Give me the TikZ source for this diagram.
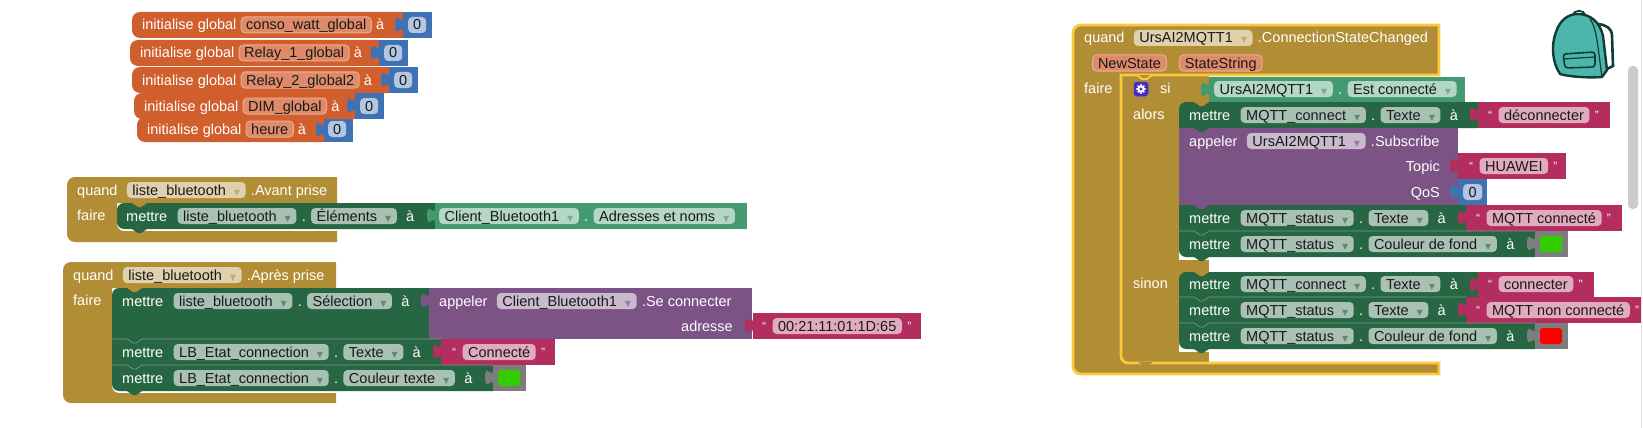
\documentclass[tikz,border=0pt]{standalone}
\usepackage{fontspec}
\setmainfont{Liberation Sans}
\newfontfamily\ddfont{DejaVu Sans}
\usetikzlibrary{positioning}

\definecolor{cOrange}{HTML}{D05F2D}
\definecolor{cBlue}{HTML}{3F71B5}
\definecolor{cBronze}{HTML}{B18E35}
\definecolor{cGreen}{HTML}{266643}
\definecolor{cTeal}{HTML}{439970}
\definecolor{cPurple}{HTML}{7C5385}
\definecolor{cPink}{HTML}{B32D5E}
\definecolor{cGrey}{HTML}{7D7D7D}
\definecolor{cSelect}{HTML}{FBC840}
\definecolor{cPack}{HTML}{4DB6AC}
\definecolor{cPackLine}{HTML}{0F3D35}
\definecolor{cVar}{HTML}{DF8B69}
\definecolor{cVarEdge}{HTML}{EAAC8F}
\definecolor{cOn}{HTML}{33CC00}

\tikzset{
  orangeblk/.style={fill=cOrange},
  blueblk/.style={fill=cBlue},
  bronzeblk/.style={fill=cBronze},
  greenblk/.style={fill=cGreen},
  tealblk/.style={fill=cTeal},
  purpleblk/.style={fill=cPurple},
  pinkblk/.style={fill=cPink},
  greyblk/.style={fill=cGrey},
  seamline/.style={draw=white, draw opacity=.35, line width=.7pt},
  lbl/.style={text=white, inner sep=0pt, text height=11pt, text depth=1pt, anchor=west},
  quot/.style={lbl, font=\fontsize{12}{13}\selectfont, text height=10pt, text depth=2pt},
  pill/.style={fill=white, fill opacity=.6, text opacity=1, text=black!90, rounded corners=4pt,
    inner xsep=5.5pt, inner ysep=2pt, text height=11pt, text depth=1pt, anchor=west},
  varpill/.style={fill=cVar, draw=cVarEdge, text=black!90, rounded corners=4pt, line width=1pt,
    inner xsep=5pt, inner ysep=2pt, text height=11pt, text depth=1pt, anchor=west},
  swatch/.style={rounded corners=3pt, minimum width=22pt, minimum height=16pt, inner sep=0pt},
  every node/.style={font=\fontsize{14.5}{16}\selectfont},
}

% socket tab on the left side of a value block
\newcommand{\inputtab}[3]{\fill[#3] (#1,#2+5) .. controls (#1,#2+15) and (#1-8,#2-3) .. (#1-8,#2+12.5)
  .. controls (#1-8,#2+28) and (#1,#2+10) .. (#1,#2+20) -- cycle;}
% notch under a statement
\newcommand{\nub}[3]{\fill[#3] (#1,#2) -- ++(6,4) -- ++(3,0) -- ++(6,-4) -- cycle;}
% light line on top of a stacked statement
\newcommand{\seam}[3]{\draw[seamline] (#1,#3) -- (#1+15,#3) -- ++(6,4) -- ++(3,0) -- ++(6,-4) -- (#2,#3);}
\newcommand{\ddmark}[1]{\hspace{8pt}{\ddfont\fontsize{8}{10}\selectfont\textcolor{#1!75!white}{▼}}\hspace{2.5pt}}

\begin{document}
\begin{tikzpicture}[x=1pt,y=-1pt]
\useasboundingbox (0,0) rectangle (1643,428);
\draw[black!10, line width=.7pt] (1641,0) -- (1641,428);

% variables globales
\fill[orangeblk] (403,12) [rounded corners=8] -- (132,12) -- (132,38) [sharp corners] -- (403,38) -- cycle;
\fill[blueblk] (403,12) rectangle (432,38);
\inputtab{403}{12}{blueblk}
\node[lbl] (initA) at (142,25) {initialise global};
\node[varpill, right=4pt of initA] (varA) {conso\_watt\_global};
\node[lbl, right=4pt of varA] (toA) {à};
\node[pill, minimum width=18pt, inner xsep=0pt] (zeroA) at (408,25) {0};

\fill[orangeblk] (379,40) [rounded corners=8] -- (130,40) -- (130,66) [sharp corners] -- (379,66) -- cycle;
\fill[blueblk] (379,40) rectangle (408,66);
\inputtab{379}{40}{blueblk}
\node[lbl] (initB) at (140,53) {initialise global};
\node[varpill, right=4pt of initB] (varB) {Relay\_1\_global};
\node[lbl, right=4pt of varB] (toB) {à};
\node[pill, minimum width=18pt, inner xsep=0pt] (zeroB) at (384,53) {0};

\fill[orangeblk] (389,67) [rounded corners=8] -- (132,67) -- (132,93) [sharp corners] -- (389,93) -- cycle;
\fill[blueblk] (389,67) rectangle (418,93);
\inputtab{389}{67}{blueblk}
\node[lbl] (initC) at (142,80) {initialise global};
\node[varpill, right=4pt of initC] (varC) {Relay\_2\_global2};
\node[lbl, right=4pt of varC] (toC) {à};
\node[pill, minimum width=18pt, inner xsep=0pt] (zeroC) at (394,80) {0};

\fill[orangeblk] (324,117) [rounded corners=8] -- (137,117) -- (137,142) [sharp corners] -- (324,142) -- cycle;
\fill[blueblk] (324,119) rectangle (353,142);
\inputtab{324}{117}{blueblk}
\fill[orangeblk] (355,93) [rounded corners=8] -- (134,93) -- (134,119) [sharp corners] -- (355,119) -- cycle;
\fill[blueblk] (355,93) rectangle (384,119);
\inputtab{355}{93}{blueblk}
\node[lbl] (initD) at (144,106) {initialise global};
\node[varpill, right=4pt of initD] (varD) {DIM\_global};
\node[lbl, right=4pt of varD] (toD) {à};
\node[pill, minimum width=18pt, inner xsep=0pt] (zeroD) at (360,106) {0};
\node[lbl] (initE) at (147,129) {initialise global};
\node[varpill, right=4pt of initE] (varE) {heure};
\node[lbl, right=4pt of varE] (toE) {à};
\node[pill, minimum width=18pt, inner xsep=0pt] (zeroE) at (328,129) {0};

% liste_bluetooth .Avant prise
\fill[bronzeblk] (337,177) -- (337,203) -- (117,203) [rounded corners=7] -- (117,231) [sharp corners] -- (337,231) -- (337,242) [rounded corners=8] -- (67,242) -- (67,177) [sharp corners] -- cycle;
\fill[greenblk] (435,203) [rounded corners=7] -- (117,203) -- (117,229) [sharp corners] -- (435,229) -- cycle;
\fill[tealblk] (435,203) rectangle (747,229);
\inputtab{435}{203}{tealblk}
\nub{132}{203}{bronzeblk}
\nub{132}{229}{greenblk}
\node[lbl] (quandA) at (77,190) {quand};
\node[pill, right=9pt of quandA] (listeA) {liste\_bluetooth\ddmark{cBronze}};
\node[lbl, right=5pt of listeA] (eventA) {.Avant prise};
\node[lbl] (faireA) at (77,215) {faire};
\node[lbl] (setA) at (126,216) {mettre};
\node[pill, right=10pt of setA] (setAcomp) {liste\_bluetooth\ddmark{cGreen}};
\node[lbl, right=5pt of setAcomp] (setAdot) {.};
\node[pill, right=5pt of setAdot] (setAprop) {Éléments\ddmark{cGreen}};
\node[lbl, right=9pt of setAprop] (setAto) {à};
\node[pill] (getAcomp) at (439,216) {Client\_Bluetooth1\ddmark{cTeal}};
\node[lbl, right=5pt of getAcomp] (getAdot) {.};
\node[pill, right=5pt of getAdot] (getAprop) {Adresses et noms\ddmark{cTeal}};

% liste_bluetooth .Après prise
\fill[bronzeblk] (336,262) -- (336,288) -- (112,288) [rounded corners=7] -- (112,393) [sharp corners] -- (336,393) -- (336,403) [rounded corners=8] -- (63,403) -- (63,262) [sharp corners] -- cycle;
\fill[greenblk] (429,288) [rounded corners=7] -- (112,288) [sharp corners] -- (112,339) -- (429,339) -- cycle;
\fill[purpleblk] (429,288) rectangle (752,339);
\fill[pinkblk] (753,313) rectangle (921,339);
\inputtab{429}{288}{purpleblk}
\inputtab{753}{313}{pinkblk}
\fill[greenblk] (112,339) rectangle (441,365);
\fill[pinkblk] (441,339) rectangle (555,365);
\inputtab{441}{339}{pinkblk}
\fill[greenblk] (112,365) [rounded corners=7] -- (112,391) [sharp corners] -- (493,391) -- (493,365) -- cycle;
\fill[greyblk] (493,365) rectangle (526,391);
\inputtab{493}{365}{greyblk}
\nub{127}{288}{bronzeblk}
\seam{112}{441}{339}
\seam{112}{493}{365}
\nub{127}{391}{greenblk}
\node[lbl] (quandB) at (73,275) {quand};
\node[pill, right=9pt of quandB] (listeB) {liste\_bluetooth\ddmark{cBronze}};
\node[lbl, right=5pt of listeB] (eventB) {.Après prise};
\node[lbl] (faireB) at (73,300) {faire};
\node[lbl] (setB) at (122,301) {mettre};
\node[pill, right=10pt of setB] (setBcomp) {liste\_bluetooth\ddmark{cGreen}};
\node[lbl, right=5pt of setBcomp] (setBdot) {.};
\node[pill, right=5pt of setBdot] (setBprop) {Sélection\ddmark{cGreen}};
\node[lbl, right=9pt of setBprop] (setBto) {à};
\node[lbl] (callB) at (439,301) {appeler};
\node[pill, right=9pt of callB] (callBcomp) {Client\_Bluetooth1\ddmark{cPurple}};
\node[lbl, right=5pt of callBcomp] (callBname) {.Se connecter};
\node[lbl, anchor=east] (adrB) at (733,326) {adresse};
\node[quot] (adrBl) at (762,326) {“};
\node[pill, right=6pt of adrBl] (adrBval) {00:21:11:01:1D:65};
\node[quot, right=5pt of adrBval] (adrBr) {”};
\node[lbl] (setC) at (122,352) {mettre};
\node[pill, right=10pt of setC] (setCcomp) {LB\_Etat\_connection\ddmark{cGreen}};
\node[lbl, right=5pt of setCcomp] (setCdot) {.};
\node[pill, right=5pt of setCdot] (setCprop) {Texte\ddmark{cGreen}};
\node[lbl, right=9pt of setCprop] (setCto) {à};
\node[quot] (setCl) at (452,352) {“};
\node[pill, right=6pt of setCl] (setCval) {Connecté};
\node[quot, right=5pt of setCval] (setCr) {”};
\node[lbl] (setD) at (122,378) {mettre};
\node[pill, right=10pt of setD] (setDcomp) {LB\_Etat\_connection\ddmark{cGreen}};
\node[lbl, right=5pt of setDcomp] (setDdot) {.};
\node[pill, right=5pt of setDdot] (setDprop) {Couleur texte\ddmark{cGreen}};
\node[lbl, right=9pt of setDprop] (setDto) {à};
\node[swatch, fill=cOn] (setDcol) at (509,378) {};

% UrsAI2MQTT1 .ConnectionStateChanged
\fill[bronzeblk] (1121,75) rectangle (1209,362);
\path[bronzeblk, draw=cSelect, line width=2.8pt] (1439,25) -- (1439,75) -- (1121,75) [rounded corners=7] -- (1121,363) [sharp corners] -- (1439,363) -- (1439,374) [rounded corners=8] -- (1073,374) -- (1073,25) [sharp corners] -- cycle;
\fill[bronzeblk, draw=cSelect, line width=1.8pt] (1137,75) -- ++(5,4) -- ++(5,0) -- ++(5,-4);
\fill[bronzeblk] (1138,362) -- ++(6,4) -- ++(3,0) -- ++(6,-4) -- cycle;
\fill[tealblk] (1209,77) rectangle (1465,102);
\inputtab{1209}{77}{tealblk}
% alors
\fill[greenblk] (1478,102) [rounded corners=7] -- (1179,102) [sharp corners] -- (1179,128) -- (1478,128) -- cycle;
\fill[pinkblk] (1478,102) rectangle (1610,128);
\inputtab{1478}{102}{pinkblk}
\fill[purpleblk] (1179,128) rectangle (1458,205);
\fill[pinkblk] (1458,153) rectangle (1566,179);
\inputtab{1458}{153}{pinkblk}
\fill[blueblk] (1458,179) rectangle (1487,205);
\inputtab{1458}{179}{blueblk}
\fill[greenblk] (1179,205) rectangle (1466,231);
\fill[pinkblk] (1466,205) rectangle (1622,231);
\inputtab{1466}{205}{pinkblk}
\fill[white] (1179,250) rectangle (1209,260);
\fill[greenblk] (1179,231) [rounded corners=7] -- (1179,257) [sharp corners] -- (1535,257) -- (1535,231) -- cycle;
\fill[greyblk] (1535,231) rectangle (1568,257);
\inputtab{1535}{231}{greyblk}
\nub{1194}{102}{bronzeblk}
\nub{1194}{128}{greenblk}
\nub{1194}{205}{purpleblk}
\seam{1179}{1535}{231}
\nub{1194}{257}{greenblk}
% sinon
\fill[greenblk] (1478,272) [rounded corners=7] -- (1179,272) [sharp corners] -- (1179,297) -- (1478,297) -- cycle;
\fill[pinkblk] (1478,272) rectangle (1594,297);
\inputtab{1478}{272}{pinkblk}
\fill[greenblk] (1179,297) rectangle (1466,323);
\fill[pinkblk] (1466,297) rectangle (1641,323);
\inputtab{1466}{297}{pinkblk}
\fill[white] (1179,342) rectangle (1209,352);
\fill[greenblk] (1179,323) [rounded corners=7] -- (1179,349) [sharp corners] -- (1535,349) -- (1535,323) -- cycle;
\fill[greyblk] (1535,323) rectangle (1568,349);
\inputtab{1535}{323}{greyblk}
\nub{1194}{272}{bronzeblk}
\seam{1179}{1466}{297}
\seam{1179}{1535}{323}
\nub{1194}{349}{greenblk}

\node[lbl] (quandC) at (1084,38) {quand};
\node[pill, right=9pt of quandC] (mqttC) {UrsAI2MQTT1\ddmark{cBronze}};
\node[lbl, right=5pt of mqttC] (eventC) {.ConnectionStateChanged};
\node[varpill, inner xsep=5.5pt] (newState) at (1092,63) {NewState};
\node[varpill, inner xsep=5.5pt, right=12pt of newState] (stateString) {StateString};
\node[lbl] (faireC) at (1084,88) {faire};
\node[draw=white, draw opacity=.3, fill=blue!45!cPurple, rounded corners=3pt, minimum size=15pt, inner sep=0pt] (gear) at (1141,89) {};
\foreach \a in {0,45,...,315} \fill[white] (gear.center) ++(\a:3.9) circle (1.2);
\fill[white] (gear.center) circle (3.6);
\fill[blue!45!cPurple] (gear.center) circle (1.6);
\node[lbl] (siC) at (1160,88) {si};
\node[pill] (getCcomp) at (1214,89) {UrsAI2MQTT1\ddmark{cTeal}};
\node[lbl, right=5pt of getCcomp] (getCdot) {.};
\node[pill, right=5pt of getCdot] (getCprop) {Est connecté\ddmark{cTeal}};
\node[lbl] (alorsC) at (1133,114) {alors};
\node[lbl] (setE) at (1189,115) {mettre};
\node[pill, right=10pt of setE] (setEcomp) {MQTT\_connect\ddmark{cGreen}};
\node[lbl, right=5pt of setEcomp] (setEdot) {.};
\node[pill, right=5pt of setEdot] (setEprop) {Texte\ddmark{cGreen}};
\node[lbl, right=9pt of setEprop] (setEto) {à};
\node[quot] (setEl) at (1488,115) {“};
\node[pill, right=6pt of setEl] (setEval) {déconnecter};
\node[quot, right=5pt of setEval] (setEr) {”};
\node[lbl] (callC) at (1189,141) {appeler};
\node[pill, right=9pt of callC] (callCcomp) {UrsAI2MQTT1\ddmark{cPurple}};
\node[lbl, right=5pt of callCcomp] (callCname) {.Subscribe};
\node[lbl, anchor=east] (topicC) at (1440,166) {Topic};
\node[lbl, anchor=east] (qosC) at (1440,192) {QoS};
\node[quot] (topicCl) at (1469,166) {“};
\node[pill, right=6pt of topicCl] (topicCval) {HUAWEI};
\node[quot, right=5pt of topicCval] (topicCr) {”};
\node[pill, minimum width=19pt, inner xsep=0pt] (qosCval) at (1463,192) {0};
\node[lbl] (setF) at (1189,218) {mettre};
\node[pill, right=10pt of setF] (setFcomp) {MQTT\_status\ddmark{cGreen}};
\node[lbl, right=5pt of setFcomp] (setFdot) {.};
\node[pill, right=5pt of setFdot] (setFprop) {Texte\ddmark{cGreen}};
\node[lbl, right=9pt of setFprop] (setFto) {à};
\node[quot] (setFl) at (1476,218) {“};
\node[pill, right=6pt of setFl] (setFval) {MQTT connecté};
\node[quot, right=5pt of setFval] (setFr) {”};
\node[lbl] (setG) at (1189,244) {mettre};
\node[pill, right=10pt of setG] (setGcomp) {MQTT\_status\ddmark{cGreen}};
\node[lbl, right=5pt of setGcomp] (setGdot) {.};
\node[pill, right=5pt of setGdot] (setGprop) {Couleur de fond\ddmark{cGreen}};
\node[lbl, right=9pt of setGprop] (setGto) {à};
\node[swatch, fill=cOn] (setGcol) at (1551,244) {};
\node[lbl] (sinonC) at (1133,283) {sinon};
\node[lbl] (setH) at (1189,284) {mettre};
\node[pill, right=10pt of setH] (setHcomp) {MQTT\_connect\ddmark{cGreen}};
\node[lbl, right=5pt of setHcomp] (setHdot) {.};
\node[pill, right=5pt of setHdot] (setHprop) {Texte\ddmark{cGreen}};
\node[lbl, right=9pt of setHprop] (setHto) {à};
\node[quot] (setHl) at (1488,284) {“};
\node[pill, right=6pt of setHl] (setHval) {connecter};
\node[quot, right=5pt of setHval] (setHr) {”};
\node[lbl] (setI) at (1189,310) {mettre};
\node[pill, right=10pt of setI] (setIcomp) {MQTT\_status\ddmark{cGreen}};
\node[lbl, right=5pt of setIcomp] (setIdot) {.};
\node[pill, right=5pt of setIdot] (setIprop) {Texte\ddmark{cGreen}};
\node[lbl, right=9pt of setIprop] (setIto) {à};
\node[quot] (setIl) at (1476,310) {“};
\node[pill, right=6pt of setIl] (setIval) {MQTT non connecté};
\node[quot, right=5pt of setIval] (setIr) {”};
\node[lbl] (setJ) at (1189,336) {mettre};
\node[pill, right=10pt of setJ] (setJcomp) {MQTT\_status\ddmark{cGreen}};
\node[lbl, right=5pt of setJcomp] (setJdot) {.};
\node[pill, right=5pt of setJdot] (setJprop) {Couleur de fond\ddmark{cGreen}};
\node[lbl, right=9pt of setJprop] (setJto) {à};
\node[swatch, fill=red] (setJcol) at (1551,336) {};

% sac a dos et ascenseur
\fill[cGrey!40, rounded corners=4.5pt] (1628,66) rectangle (1638,209);
\draw[cPackLine, line width=2.6pt, fill=white] (1598,24) .. controls (1606,25) and (1612,28) .. (1612,36) -- (1613,66) -- (1605,70) -- cycle;
\draw[cPackLine, line width=1.8pt] (1573,16) .. controls (1573,9) and (1585,9) .. (1585,16);
\draw[cPackLine, line width=2.4pt, fill=cPack, line join=round] (1578,14) .. controls (1590,14) and (1600,22) .. (1603,36) -- (1607,70) -- (1602,77) .. controls (1590,78) and (1570,77) .. (1560,74) .. controls (1552,62) and (1551,45) .. (1556,32) .. controls (1560,20) and (1568,14) .. (1578,14) -- cycle;
\draw[cPackLine, line width=1.2pt] (1590,19) .. controls (1597,28) and (1598,50) .. (1602,77);
\draw[cPackLine, line width=1.6pt, fill=cPack, rounded corners=3pt] (1563,54) -- (1595,52) -- (1595,67) -- (1565,68) -- cycle;
\draw[cPackLine, line width=1.2pt] (1563,59) -- (1595,57);
\end{tikzpicture}
\end{document}
